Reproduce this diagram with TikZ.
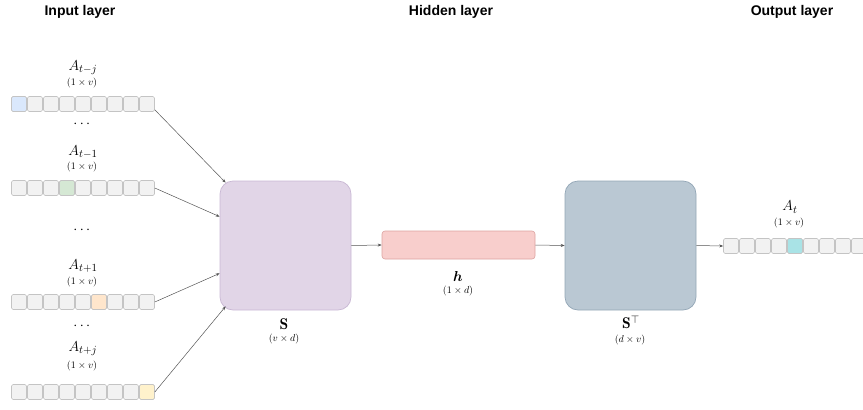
\documentclass[tikz,border=0pt]{standalone}
\usepackage{amsmath}
\usepackage{fontspec}
\setsansfont{Liberation Sans}
\usetikzlibrary{arrows.meta,calc}
\definecolor{cellfill}{HTML}{F2F2F2}
\definecolor{celldraw}{HTML}{C4C4C4}
\definecolor{hiblue}{HTML}{DAE8FC}
\definecolor{higreen}{HTML}{D5E8D4}
\definecolor{hiorange}{HTML}{FFE6CC}
\definecolor{hiyellow}{HTML}{FFF2CC}
\definecolor{hicyan}{HTML}{A9E3E6}
\definecolor{sfill}{HTML}{E1D5E7}
\definecolor{sdraw}{HTML}{C9B8D4}
\definecolor{hfill}{HTML}{F8CECC}
\definecolor{hdraw}{HTML}{DCA3A0}
\definecolor{tfill}{HTML}{BAC8D3}
\definecolor{tdraw}{HTML}{93A6B6}
\definecolor{arrowcol}{HTML}{555555}
\begin{document}
\begin{tikzpicture}[x=1pt,y=-1pt,
  title/.style={font=\sffamily\bfseries\fontsize{14}{16}\selectfont, anchor=center},
  cell/.style={draw=celldraw, fill=cellfill, line width=0.6pt, rounded corners=1.5pt,
    minimum width=15pt, minimum height=15pt, inner sep=0pt},
  vname/.style={font=\fontsize{15.5}{18}\selectfont, inner sep=0pt},
  dims/.style={font=\fontsize{10}{12}\selectfont, inner sep=0pt},
  matbox/.style={rounded corners=13pt, line width=0.7pt, inner sep=0pt},
  link/.style={draw=arrowcol, line width=0.5pt, -{Stealth[length=4pt,width=3pt]}},
]
\useasboundingbox (0,0) rectangle (863,410);

% column titles
\node[title] (tin)  at (80,12)  {Input layer};
\node[title] (thid) at (451,12) {Hidden layer};
\node[title] (tout) at (792,12) {Output layer};

% one-hot input vectors: name / centre y / highlighted cell / colour
\foreach \v/\y/\k/\c in {va/104/0/hiblue, vb/188/3/higreen, vc/302/5/hiorange, vd/392/8/hiyellow}{
  \foreach \i in {0,...,8}{
    \node[cell] (\v\i) at ({19+16*\i},\y) {};
  }
  \node[cell, fill=\c] (\v h) at ({19+16*\k},\y) {};
}

% input labels
\node[vname] (la)  at (83,68)  {$A_{t-j}$};
\node[dims]  (da)  at (82,83)  {$(1\times v)$};
\node[vname] (ea)  at (83,124) {$\cdots$};
\node[vname] (lb)  at (83,152) {$A_{t-1}$};
\node[dims]  (db)  at (82,167) {$(1\times v)$};
\node[vname] (eb)  at (83,230) {$\cdots$};
\node[vname] (lc)  at (83,266) {$A_{t+1}$};
\node[dims]  (dc)  at (82,282) {$(1\times v)$};
\node[vname] (ec)  at (83,326) {$\cdots$};
\node[vname] (ld)  at (83,349) {$A_{t+j}$};
\node[dims]  (dd)  at (82,366) {$(1\times v)$};

% embedding matrix S
\node[matbox, draw=sdraw, fill=sfill, minimum width=131pt, minimum height=129pt] (S) at (285.5,245.5) {};
\node[vname] (Sl) at (284,324) {$\mathbf{S}$};
\node[dims]  (Sd) at (284,339) {$(v\times d)$};

% hidden vector h
\node[draw=hdraw, fill=hfill, rounded corners=3pt, line width=0.6pt,
      minimum width=153pt, minimum height=28pt, inner sep=0pt] (H) at (458.5,245) {};
\node[vname] (Hl) at (458,276) {$\boldsymbol{h}$};
\node[dims]  (Hd) at (458,291) {$(1\times d)$};

% output matrix S^T
\node[matbox, draw=tdraw, fill=tfill, minimum width=131pt, minimum height=129pt] (T) at (630.5,245.5) {};
\node[vname] (Tl) at (631,322) {$\mathbf{S}^{\top}$};
\node[dims]  (Td) at (630,340) {$(d\times v)$};

% output vector A_t
\foreach \i in {0,...,8}{
  \node[cell] (w\i) at ({731+16*\i},246) {};
}
\node[cell, fill=hicyan] (wh) at (795,246) {};
\node[vname] (lt) at (790,207) {$A_t$};
\node[dims]  (dt) at (789,223) {$(1\times v)$};

% connectors
\coordinate (ia) at ($(S.north west)+(6,2)$);
\coordinate (ib) at ($(S.north west)+(0,36)$);
\coordinate (ic) at ($(S.south west)+(0,-37)$);
\coordinate (id) at ($(S.south west)+(6,-4)$);
\draw[link] ($(va8.south east)+(0,-2)$) -- (ia);
\draw[link] (vb8.east) -- (ib);
\draw[link] (vc8.east) -- (ic);
\draw[link] (vd8.east) -- (id);
\draw[link] (S.east) -- (H.west);
\draw[link] (H.east) -- (T.west);
\draw[link] (T.east) -- (w0.west);
\end{tikzpicture}
\end{document}
